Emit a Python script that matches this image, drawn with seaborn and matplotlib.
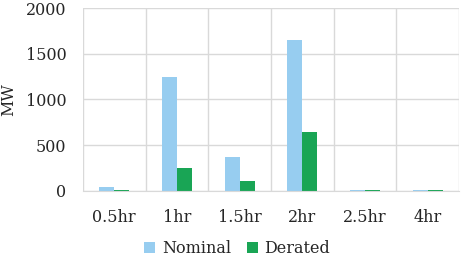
import matplotlib
matplotlib.use("Agg")
import matplotlib.pyplot as plt
import seaborn as sns
import pandas as pd
from matplotlib.ticker import MultipleLocator, FixedLocator

categories = ["0.5hr", "1hr", "1.5hr", "2hr", "2.5hr", "4hr"]
nominal = [45, 1250, 375, 1645, 8, 8]
derated = [12, 255, 110, 645, 12, 12]
series_names = ["Nominal", "Derated"]
colors = ["#97CDF0", "#19A555"]

df = pd.DataFrame({
    "cat": categories * 2,
    "val": nominal + derated,
    "series": [series_names[0]] * len(categories) + [series_names[1]] * len(categories),
})

sns.set_style("white")
plt.rcParams["font.family"] = ["DejaVu Serif"]
text_color = "#262626"
fs = 11.5

fig = plt.figure(figsize=(4.66, 2.67), dpi=100)
ax = fig.add_axes([0.178, 0.285, 0.807, 0.685])

sns.barplot(data=df, x="cat", y="val", hue="series", palette=colors,
            width=0.48, gap=0, saturation=1, ax=ax, legend=True,
            edgecolor="none", linewidth=0)

ax.set_xlim(-0.5, len(categories) - 0.5)
ax.set_ylim(0, 2000)
ax.yaxis.set_major_locator(MultipleLocator(500))
ax.xaxis.set_minor_locator(FixedLocator([i - 0.5 for i in range(len(categories) + 1)]))
ax.grid(True, axis="y", which="major", color="#d9d9d9", linewidth=1)
ax.grid(True, axis="x", which="minor", color="#d9d9d9", linewidth=1)
ax.grid(False, axis="x", which="major")
ax.set_axisbelow(True)
for s in ax.spines.values():
    s.set_visible(False)
ax.spines["bottom"].set_visible(True)
ax.spines["bottom"].set_color("#d9d9d9")

ax.tick_params(axis="x", which="both", length=0, pad=13, labelsize=fs, colors=text_color)
ax.tick_params(axis="y", length=0, pad=12, labelsize=fs, colors=text_color)
ax.set_xlabel("")
ax.set_ylabel("MW", fontsize=fs, color=text_color, labelpad=6)

ax.legend(loc="upper center", bbox_to_anchor=(0.41, -0.19), ncol=2, frameon=False,
          fontsize=fs, handlelength=0.7, handleheight=0.7, handletextpad=0.4,
          columnspacing=1.0, labelcolor=text_color)

fig.savefig("out.png", dpi=100)
